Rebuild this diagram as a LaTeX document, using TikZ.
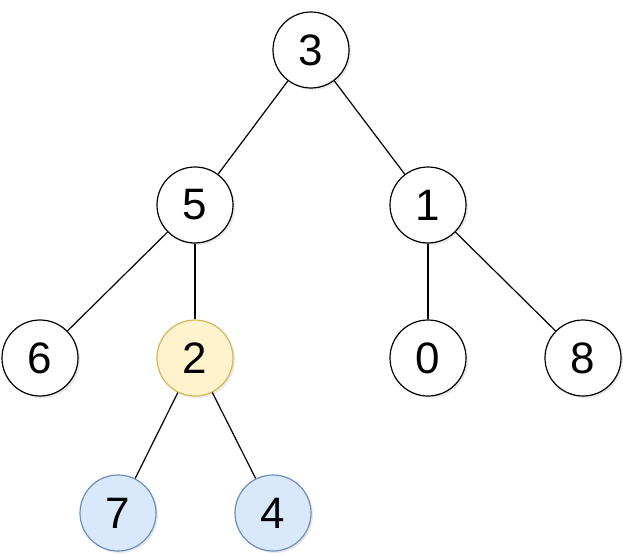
\documentclass[tikz,border=0pt]{standalone}
\usepackage{fontspec}
\setmainfont{Liberation Sans}
\usetikzlibrary{shadows}
\definecolor{nodeyellow}{HTML}{FFF2CC}
\definecolor{edgeyellow}{HTML}{D6B656}
\definecolor{nodeblue}{HTML}{DAE8FC}
\definecolor{edgeblue}{HTML}{6C8EBF}

\begin{document}
\begin{tikzpicture}[x=1pt, y=-1pt,
  tnode/.style={circle, draw, line width=1.2pt, minimum size=76pt, inner sep=0pt,
                fill=white, font=\fontsize{44}{48}\selectfont,
                drop shadow={opacity=0.18, shadow xshift=2pt, shadow yshift=-2pt}},
  link/.style={line width=1.2pt, black}
]
  \useasboundingbox (0,0) rectangle (623,556);
  \node[tnode]                                (n3) at (311,50)  {3};
  \node[tnode]                                (n5) at (195,205) {5};
  \node[tnode]                                (n1) at (428,205) {1};
  \node[tnode]                                (n6) at (40,358)  {6};
  \node[tnode, fill=nodeyellow, draw=edgeyellow] (n2) at (195,358) {2};
  \node[tnode]                                (n0) at (428,358) {0};
  \node[tnode]                                (n8) at (583,358) {8};
  \node[tnode, fill=nodeblue, draw=edgeblue]  (n7) at (118,513) {7};
  \node[tnode, fill=nodeblue, draw=edgeblue]  (n4) at (273,513) {4};
  \draw[link] (n3) -- (n5);
  \draw[link] (n3) -- (n1);
  \draw[link] (n5) -- (n6);
  \draw[link] (n5) -- (n2);
  \draw[link] (n1) -- (n0);
  \draw[link] (n1) -- (n8);
  \draw[link] (n2) -- (n7);
  \draw[link] (n2) -- (n4);
\end{tikzpicture}
\end{document}
